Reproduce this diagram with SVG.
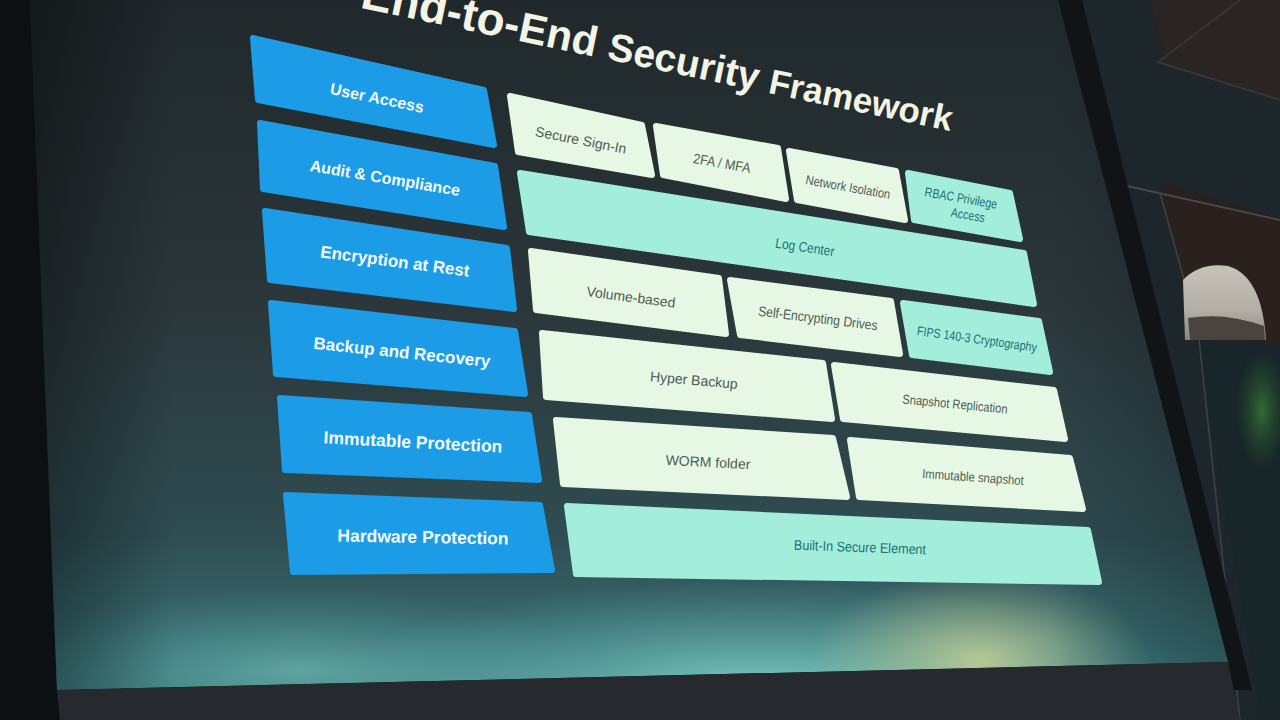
<svg xmlns="http://www.w3.org/2000/svg" width="1280" height="720" viewBox="0 0 1280 720">
  <defs>
    <linearGradient id="scr" x1="0" y1="0" x2="0" y2="1">
      <stop offset="0" stop-color="#20282b"/>
      <stop offset="0.45" stop-color="#2b373b"/>
      <stop offset="0.78" stop-color="#2f4d52"/>
      <stop offset="1" stop-color="#3c7a7e"/>
    </linearGradient>
    <linearGradient id="leftShade" x1="0" y1="0" x2="1" y2="0">
      <stop offset="0" stop-color="#000" stop-opacity="0.4"/>
      <stop offset="0.12" stop-color="#000" stop-opacity="0"/>
      <stop offset="0.85" stop-color="#000" stop-opacity="0"/>
      <stop offset="1" stop-color="#000" stop-opacity="0.25"/>
    </linearGradient>
    <radialGradient id="glowTeal" cx="0.5" cy="0.5" r="0.5">
      <stop offset="0" stop-color="#8fe0d2" stop-opacity="0.8"/>
      <stop offset="1" stop-color="#5fb8b4" stop-opacity="0"/>
    </radialGradient>
    <radialGradient id="glowYellow" cx="0.5" cy="0.5" r="0.5">
      <stop offset="0" stop-color="#d8dc98" stop-opacity="0.75"/>
      <stop offset="1" stop-color="#c0c890" stop-opacity="0"/>
    </radialGradient>
    <radialGradient id="glowGreen" cx="0.5" cy="0.5" r="0.5">
      <stop offset="0" stop-color="#3f8a3a" stop-opacity="0.7"/>
      <stop offset="1" stop-color="#2a5a2a" stop-opacity="0"/>
    </radialGradient>
    <linearGradient id="dome" x1="0" y1="0" x2="0" y2="1">
      <stop offset="0" stop-color="#c7c2b9"/>
      <stop offset="0.6" stop-color="#b3aea6"/>
      <stop offset="1" stop-color="#8a857e"/>
    </linearGradient>
    <clipPath id="screenClip">
      <path d="M30,0 L1058,0 L1228,662 L57,690 Z"/>
    </clipPath>
    <style>
      .blue { fill:#1c9be6; stroke:#1c9be6; stroke-width:6; stroke-linejoin:round; }
      .light { fill:#e6f8e4; stroke:#e6f8e4; stroke-width:6; stroke-linejoin:round; }
      .mint { fill:#a3eedb; stroke:#a3eedb; stroke-width:6; stroke-linejoin:round; }
      .lab { font-family:"Liberation Sans", Arial, sans-serif; font-weight:bold; fill:#f2fbff; text-anchor:middle; }
      .t { font-family:"Liberation Sans", Arial, sans-serif; fill:#505a56; text-anchor:middle; }
      .tm { font-family:"Liberation Sans", Arial, sans-serif; fill:#1f6e76; text-anchor:middle; }
      .title { font-family:"Liberation Sans", Arial, sans-serif; font-weight:bold; fill:#f3f4e4; text-anchor:end; }
    </style>
  </defs>

  <!-- room background -->
  <rect x="0" y="0" width="1280" height="720" fill="#0d1012"/>
  <g id="room-right">
    <polygon points="1058,0 1280,0 1280,720 1240,720" fill="#1c262b"/>
    <polygon points="1150,0 1280,0 1280,100 1165,62" fill="#2a2423"/>
    <polygon points="1165,62 1280,100 1280,222 1120,185" fill="#1d262a"/>
    <polygon points="1160,183 1280,218 1280,345 1195,340" fill="#2a201d"/>
    <polygon points="1196,340 1280,345 1280,720 1262,720" fill="#18262a"/>
    <ellipse cx="1262" cy="410" rx="26" ry="60" fill="url(#glowGreen)"/>
    <path d="M1240,0 L1158,62 L1280,100" fill="none" stroke="#3a3533" stroke-width="2"/>
    <path d="M1118,184 L1280,220" fill="none" stroke="#4a4846" stroke-width="2"/>
    <path d="M1160,193 L1198,330 L1240,720" fill="none" stroke="#3e4442" stroke-width="1.5"/>
    <path d="M1185,340 L1183,280 Q1200,262 1228,266 Q1262,276 1266,340 Z" fill="url(#dome)"/>
    <path d="M1188,318 Q1225,312 1264,326 L1265,340 L1190,340 Z" fill="#4a4440"/>
    <polygon points="1058,0 1082,0 1252,690 1228,690" fill="#111416"/>
  </g>

  <!-- projection screen -->
  <g id="screen">
    <path d="M30,0 L1058,0 L1228,662 L57,690 Z" fill="url(#scr)"/>
    <g clip-path="url(#screenClip)">
      <ellipse cx="760" cy="690" rx="440" ry="110" fill="url(#glowTeal)"/>
      <ellipse cx="980" cy="660" rx="170" ry="90" fill="url(#glowYellow)"/>
      <ellipse cx="300" cy="670" rx="300" ry="80" fill="url(#glowTeal)" opacity="0.55"/>
      <rect x="30" y="0" width="1200" height="700" fill="url(#leftShade)"/>
    </g>
    <polygon points="57,690 1228,662 1240,720 60,720" fill="#262a2e"/>
  </g>

  <text id="title" class="title" transform="translate(950,131) rotate(11.8)"><tspan font-size="46">End-to-</tspan><tspan font-size="42">End </tspan><tspan font-size="39">Security </tspan><tspan font-size="35">Framework</tspan></text>

  <!-- left category column -->
  <g id="user-access">
    <polygon class="blue" points="253,38 484,90 494,145 258,100"/>
    <text class="lab" font-size="16" transform="translate(377,98) rotate(11.5)" y="5.5">User Access</text>
  </g>
  <g id="audit-compliance">
    <polygon class="blue" points="260,123 495,166 504,227 263,189"/>
    <text class="lab" font-size="16" transform="translate(385,178) rotate(9.5)" y="5.5">Audit &amp; Compliance</text>
  </g>
  <g id="encryption-at-rest">
    <polygon class="blue" points="265,211 507,248 514,309 270,280"/>
    <text class="lab" font-size="17" transform="translate(395,261) rotate(7.5)" y="6">Encryption at Rest</text>
  </g>
  <g id="backup-recovery">
    <polygon class="blue" points="271,303 515,331 525,394 276,374"/>
    <text class="lab" font-size="17" transform="translate(402,352) rotate(6)" y="6">Backup and Recovery</text>
  </g>
  <g id="immutable-protection">
    <polygon class="blue" points="280,398 529,415 539,480 285,470"/>
    <text class="lab" font-size="17.5" transform="translate(413,442) rotate(3)" y="6">Immutable Protection</text>
  </g>
  <g id="hardware-protection">
    <polygon class="blue" points="286,495 540,505 552,570 293,572"/>
    <text class="lab" font-size="17.5" transform="translate(423,537) rotate(1)" y="6">Hardware Protection</text>
  </g>

  <!-- right feature cells -->
  <g id="secure-sign-in">
    <polygon class="light" points="510,96 642,125 652,175 518,152"/>
    <text class="t" font-size="14" transform="translate(581,140) rotate(11)" y="5">Secure Sign-In</text>
  </g>
  <g id="2fa-mfa">
    <polygon class="light" points="656,126 778,148 786,199 663,175"/>
    <text class="t" font-size="14" transform="translate(722,163) rotate(10) scale(0.9,1)" y="5">2FA / MFA</text>
  </g>
  <g id="network-isolation">
    <polygon class="light" points="789,151 896,171 905,220 797,200"/>
    <text class="t" font-size="13" transform="translate(848,187) rotate(10) scale(0.86,1)" y="4.5">Network Isolation</text>
  </g>
  <g id="rbac">
    <polygon class="mint" points="908,173 1010,193 1020,239 914,220"/>
    <text class="tm" font-size="13" transform="translate(961,198) rotate(10) scale(0.82,1)" y="4.5">RBAC Privilege</text>
    <text class="tm" font-size="13" transform="translate(968,215) rotate(10) scale(0.82,1)" y="4.5">Access</text>
  </g>
  <g id="log-center">
    <polygon class="mint" points="520,173 1024,253 1034,304 529,232"/>
    <text class="tm" font-size="14" transform="translate(805,247) rotate(8.5) scale(0.86,1)" y="5">Log Center</text>
  </g>
  <g id="volume-based">
    <polygon class="light" points="531,251 719,278 726,334 536,310"/>
    <text class="t" font-size="14" transform="translate(631,297) rotate(7.5)" y="5">Volume-based</text>
  </g>
  <g id="self-encrypting-drives">
    <polygon class="light" points="730,280 891,301 900,354 740,335"/>
    <text class="t" font-size="14" transform="translate(818,318) rotate(7) scale(0.87,1)" y="5">Self-Encrypting Drives</text>
  </g>
  <g id="fips">
    <polygon class="mint" points="903,303 1039,321 1050,372 912,355"/>
    <text class="tm" font-size="13" transform="translate(977,339) rotate(8) scale(0.82,1)" y="4.5">FIPS 140-3 Cryptography</text>
  </g>
  <g id="hyper-backup">
    <polygon class="light" points="542,333 823,363 832,419 546,397"/>
    <text class="t" font-size="14" transform="translate(694,380) rotate(5)" y="5">Hyper Backup</text>
  </g>
  <g id="snapshot-replication">
    <polygon class="light" points="834,365 1054,390 1065,439 843,419"/>
    <text class="t" font-size="13" transform="translate(955,404) rotate(5.5) scale(0.86,1)" y="4.5">Snapshot Replication</text>
  </g>
  <g id="worm-folder">
    <polygon class="light" points="556,420 833,438 847,497 563,484"/>
    <text class="t" font-size="14" transform="translate(708,462) rotate(3)" y="5">WORM folder</text>
  </g>
  <g id="immutable-snapshot">
    <polygon class="light" points="850,440 1070,458 1083,509 859,497"/>
    <text class="t" font-size="13" transform="translate(973,477) rotate(4) scale(0.87,1)" y="4.5">Immutable snapshot</text>
  </g>
  <g id="built-in-secure-element">
    <polygon class="mint" points="567,506 1088,530 1099,582 576,574"/>
    <text class="tm" font-size="14" transform="translate(860,547) rotate(2) scale(0.9,1)" y="5">Built-In Secure Element</text>
  </g>

  <g id="connectors"/>
</svg>
